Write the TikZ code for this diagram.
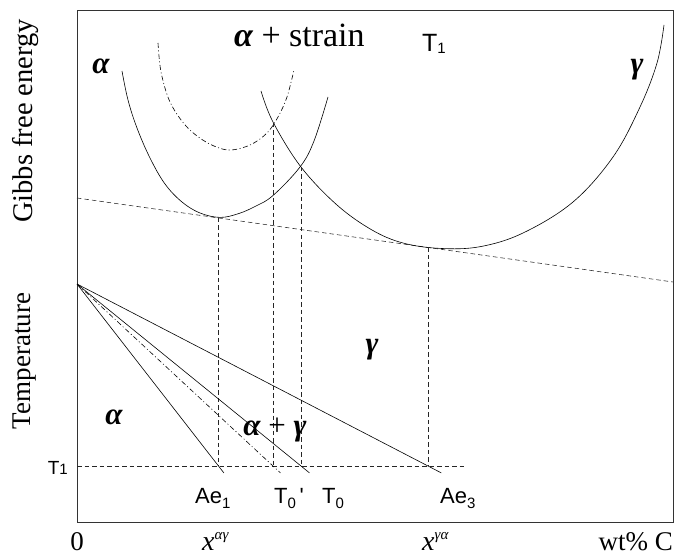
\documentclass[tikz,border=0pt]{standalone}
\usepackage{fontspec}
\setmainfont{Liberation Serif}
\newfontfamily\hv{Liberation Sans}
\usetikzlibrary{calc}
\begin{document}
\begin{tikzpicture}[x=1pt,y=-1pt,
 curve/.style={line width=0.6pt},
 dashline/.style={line width=0.55pt, black!85, dash pattern=on 4.5pt off 3pt},
 dashdot/.style={line width=0.6pt, dash pattern=on 5pt off 2.5pt on 1pt off 2.5pt},
 lbl/.style={inner sep=0pt, font=\fontsize{27}{30}\selectfont},
 sans/.style={inner sep=0pt, font=\hv\fontsize{22}{24}\selectfont},
 greek/.style={inner sep=0pt, font=\bfseries\itshape\fontsize{31}{36}\selectfont}]
\useasboundingbox (0,0) rectangle (678,559);
% frame
\draw[line width=0.7pt, black!80] (77,10) rectangle (673,522);
% common tangent
\coordinate (gl) at (77,198);
\coordinate (gr) at (673,282);
\draw[dashline] (gl) -- (gr);
% free energy curves
\draw[curve] plot[smooth, tension=0.6] coordinates {(122,71) (128,100) (137,128) (150,158) (165,184) (182,202) (200,213) (220,217.4) (238,213.8) (255,206.5) (273,195.5) (300,167) (314,141) (328,97)};
\draw[dashdot] plot[smooth, tension=0.55] coordinates {(158,43) (161,72) (170,102) (186,126) (206,142) (228,150) (250,145) (267,133) (278,117) (287,97) (294,70)};
\draw[curve] plot[smooth, tension=0.6] coordinates {(261,91) (273,122) (301,167) (337,205) (372,230) (403,243) (440,248.4) (480,246.7) (523,233) (573,202) (613,157) (640,107) (657,63) (664,25)};
% points on curves
\coordinate (ta) at (218.5,217.8);
\coordinate (ts) at (273,123);
\coordinate (tg) at (301,167);
\coordinate (tc) at (428,247.4);
% T1 line
\coordinate (O) at (77,284);
\coordinate (T1l) at (77,466);
\coordinate (T1r) at (467,466);
\coordinate (p1) at (218.5,466);
\coordinate (p2) at (273,466);
\coordinate (p3) at (301,466);
\coordinate (p4) at (428,466);
\draw[dashline] (T1l) -- (T1r);
\draw[dashline] (ta) -- (p1);
\draw[dashline] (ts) -- (p2);
\draw[dashline] (tg) -- (p3);
\draw[dashline] (tc) -- (p4);
% phase boundaries
\draw[curve] (O) -- ($(O)!1.038!(p1)$);
\draw[dashdot] (O) -- ($(O)!1.038!(p2)$);
\draw[curve] (O) -- ($(O)!1.038!(p3)$);
\draw[curve] (O) -- ($(O)!1.038!(p4)$);
% labels
\node[lbl, rotate=90, font=\fontsize{28.5}{30}\selectfont] (ylab1) at (26,121) {Gibbs free energy};
\node[lbl, rotate=90] (ylab2) at (25,361) {Temperature};
\node[greek, anchor=base] (la) at (101,74) {α};
\node[lbl, anchor=base west, font=\fontsize{34}{36}\selectfont] (las) at (234,47) {{\bfseries\itshape α} + strain};
\node[sans, anchor=base west, font=\hv\fontsize{25}{28}\selectfont] (t1top) at (422,52) {T\raisebox{-2pt}{\fontsize{15}{15}\selectfont 1}};
\node[greek] (lg) at (637,70) {γ};
\node[greek] (lg2) at (372,350) {γ};
\node[greek, anchor=base] (la2) at (114,424) {α};
\node[lbl, anchor=base, font=\fontsize{31}{32}\selectfont] (lag) at (275,435) {{\bfseries\itshape α} + {\bfseries\itshape γ}};
\node[sans, anchor=base east, font=\hv\fontsize{19}{20}\selectfont] (t1l) at (68,474) {T{\fontsize{15}{15}\selectfont 1}};
\node[sans, anchor=base west] (ae1) at (195,503) {Ae\raisebox{-5pt}{\fontsize{15}{15}\selectfont 1}};
\node[sans, anchor=base west] (t0p) at (274,503) {T\raisebox{-5pt}{\fontsize{15}{15}\selectfont 0}\,'};
\node[sans, anchor=base west] (t0) at (322,503) {T\raisebox{-5pt}{\fontsize{15}{15}\selectfont 0}};
\node[sans, anchor=base west] (ae3) at (440,503) {Ae\raisebox{-5pt}{\fontsize{15}{15}\selectfont 3}};
\node[lbl, anchor=base] (zero) at (77,550) {0};
\node[lbl, anchor=base west, font=\fontsize{28}{30}\selectfont] (xag) at (202,550) {\itshape x\raisebox{11pt}{\fontsize{15}{16}\selectfont αγ}};
\node[lbl, anchor=base west, font=\fontsize{28}{30}\selectfont] (xga) at (422,550) {\itshape x\raisebox{11pt}{\fontsize{15}{16}\selectfont γα}};
\node[lbl, anchor=base east] (wt) at (673,550) {wt\% C};
\end{tikzpicture}
\end{document}
